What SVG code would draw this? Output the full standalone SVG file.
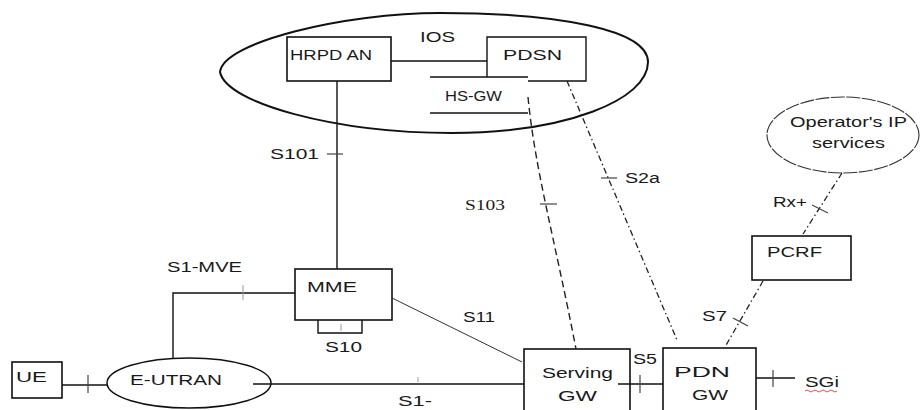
<svg xmlns="http://www.w3.org/2000/svg" width="920" height="410" viewBox="0 0 920 410">
<style>
.box{fill:#fff;stroke:#111;stroke-width:1.6}
.t{font-family:"Liberation Sans",Arial,sans-serif;fill:#1a1a1a;font-size:14px}
.ts{font-family:"Liberation Serif","Times New Roman",serif;fill:#1a1a1a;font-size:15px}
.ln{fill:none;stroke:#111;stroke-width:1.4}
.thin{fill:none;stroke:#333;stroke-width:1}
.tick{fill:none;stroke:#444;stroke-width:1.2}
.faint{fill:none;stroke:#999;stroke-width:1}
.dash{fill:none;stroke:#222;stroke-width:1.4;stroke-dasharray:7 4}
.dd{fill:none;stroke:#222;stroke-width:1.3;stroke-dasharray:6 3 1.5 3}
</style>
<rect width="920" height="410" fill="#fff"/>

<g id="ios-domain">
<path d="M220,72 C223,42 345,13 440,13 C560,13 648,30 648,62 C648,100 565,133 452,133 C335,133 226,103 220,72 Z" fill="none" stroke="#111" stroke-width="2"/>
<text class="t" x="420" y="42" textLength="35" lengthAdjust="spacingAndGlyphs">IOS</text>
</g>

<g id="hrpd-an">
<rect class="box" x="287" y="37" width="104" height="44"/>
<text class="t" x="290" y="60" textLength="82" lengthAdjust="spacingAndGlyphs">HRPD AN</text>
</g>

<g id="pdsn">
<path class="ln" d="M487,77 L487,37 L586,37 L586,81 L528,81"/>
<text class="t" x="503" y="60" textLength="59" lengthAdjust="spacingAndGlyphs">PDSN</text>
</g>

<g id="hs-gw">
<line class="ln" x1="430" y1="77" x2="528" y2="77"/>
<line class="ln" x1="430" y1="113" x2="528" y2="113"/>
<text class="t" x="445" y="101" font-size="13" textLength="57" lengthAdjust="spacingAndGlyphs">HS-GW</text>
</g>

<g id="mme">
<rect class="box" x="295" y="269" width="97" height="51"/>
<text class="t" x="307" y="292" textLength="50" lengthAdjust="spacingAndGlyphs">MME</text>
</g>

<g id="ue">
<rect class="box" x="12" y="362" width="50" height="36"/>
<text class="t" x="16" y="382" font-size="15" textLength="31" lengthAdjust="spacingAndGlyphs">UE</text>
</g>

<g id="e-utran">
<ellipse cx="189" cy="383" rx="82" ry="25" fill="none" stroke="#111" stroke-width="1.5"/>
<text class="t" x="130" y="385" font-size="15" textLength="92" lengthAdjust="spacingAndGlyphs">E-UTRAN</text>
</g>

<g id="serving-gw">
<rect class="box" x="524" y="349" width="106" height="70" stroke-width="2"/>
<text class="t" x="542" y="378" font-size="15" textLength="71" lengthAdjust="spacingAndGlyphs">Serving</text>
<text class="t" x="558" y="401" font-size="15" textLength="39" lengthAdjust="spacingAndGlyphs">GW</text>
</g>

<g id="pdn-gw">
<rect class="box" x="663" y="348" width="93" height="70" stroke-width="2"/>
<text class="t" x="674" y="377" font-size="15" textLength="56" lengthAdjust="spacingAndGlyphs">PDN</text>
<text class="t" x="692" y="400" font-size="15" textLength="36" lengthAdjust="spacingAndGlyphs">GW</text>
</g>

<g id="pcrf">
<rect class="box" x="752" y="236" width="99" height="44"/>
<text class="t" x="767" y="257" textLength="55" lengthAdjust="spacingAndGlyphs">PCRF</text>
</g>

<g id="operator-ip-services">
<ellipse cx="843" cy="135" rx="76" ry="38" fill="none" stroke="#333" stroke-width="1.1" stroke-dasharray="14 1.5"/>
<text class="t" x="790" y="127" font-size="15" textLength="117" lengthAdjust="spacingAndGlyphs">Operator's IP</text>
<text class="t" x="812" y="148" font-size="15" textLength="73" lengthAdjust="spacingAndGlyphs">services</text>
</g>

<g id="connectors">
<line class="ln" x1="391" y1="61" x2="487" y2="61"/>
<line class="ln" x1="337" y1="81" x2="337" y2="269"/>
<line class="tick" x1="327" y1="154" x2="343" y2="154"/>
<text class="t" x="270" y="159" font-size="16" textLength="49" lengthAdjust="spacingAndGlyphs">S101</text>
<path class="dash" d="M528,97 C535,170 555,240 576,349"/>
<line class="tick" x1="540" y1="204" x2="557" y2="204"/>
<text class="ts" x="465" y="210" textLength="40" lengthAdjust="spacingAndGlyphs">S103</text>
<line class="dd" x1="567" y1="81" x2="677" y2="340"/>
<line class="tick" x1="601" y1="178" x2="617" y2="178"/>
<text class="t" x="625" y="183" textLength="35" lengthAdjust="spacingAndGlyphs">S2a</text>
<line class="dd" x1="842" y1="173" x2="803" y2="234"/>
<line class="tick" x1="812" y1="205" x2="828" y2="213"/>
<text class="t" x="773" y="207" textLength="34" lengthAdjust="spacingAndGlyphs">Rx+</text>
<line class="dd" x1="763" y1="281" x2="725" y2="347"/>
<line class="tick" x1="733" y1="318" x2="748" y2="326"/>
<text class="t" x="702" y="321" textLength="25" lengthAdjust="spacingAndGlyphs">S7</text>
<path class="ln" d="M295,293 L173,293 L173,358"/>
<line class="faint" x1="243" y1="285" x2="243" y2="300"/>
<text class="t" x="167" y="272" font-size="16" textLength="75" lengthAdjust="spacingAndGlyphs">S1-MVE</text>
<path class="ln" d="M318,320 L318,333 L362,333 L362,320"/>
<line class="faint" x1="341" y1="324" x2="341" y2="331"/>
<text class="t" x="325" y="352" textLength="37" lengthAdjust="spacingAndGlyphs">S10</text>
<line class="thin" x1="392" y1="298" x2="522" y2="362"/>
<text class="t" x="463" y="322" font-size="15" textLength="32" lengthAdjust="spacingAndGlyphs">S11</text>
<line class="ln" x1="62" y1="385" x2="107" y2="385"/>
<line class="tick" x1="88" y1="375" x2="88" y2="393"/>
<line class="ln" x1="253" y1="384" x2="524" y2="384"/>
<line class="faint" x1="418" y1="377" x2="418" y2="382"/>
<text class="t" x="398" y="406" font-size="14" textLength="34" lengthAdjust="spacingAndGlyphs">S1-</text>
<line class="ln" x1="618" y1="384" x2="663" y2="384"/>
<line class="tick" x1="640" y1="375" x2="640" y2="393"/>
<text class="t" x="633" y="364" textLength="24" lengthAdjust="spacingAndGlyphs">S5</text>
<line class="ln" x1="756" y1="378" x2="795" y2="378"/>
<line class="tick" x1="773" y1="370" x2="773" y2="387"/>
<text class="t" x="805" y="387" font-size="15" textLength="34" lengthAdjust="spacingAndGlyphs">SGi</text>
<path d="M805,391 q2,-2 4,0 t4,0 t4,0 t4,0 t4,0 t4,0 t4,0 t4,0" fill="none" stroke="#d04040" stroke-width="0.9"/>
</g>
</svg>
